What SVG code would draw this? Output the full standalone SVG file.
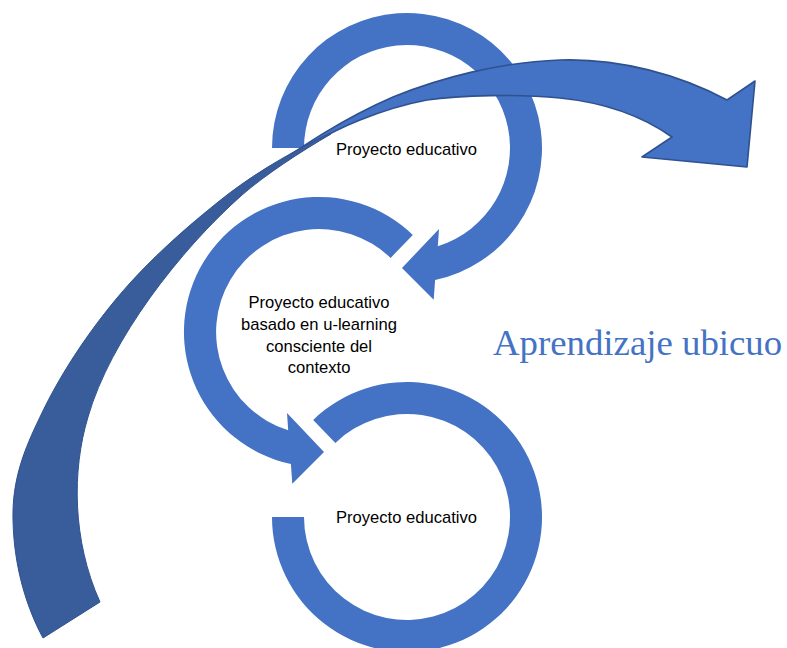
<svg xmlns="http://www.w3.org/2000/svg" width="787" height="648" viewBox="0 0 787 648">
<style>
.ring{fill:#4472C4;}
.lbl{font-family:"Liberation Sans",Arial,sans-serif;font-size:16.6px;fill:#000;text-anchor:middle;}
.title{font-family:"Liberation Serif","Times New Roman",serif;font-size:36.8px;fill:#4472C4;}
.front{fill:#4472C4;stroke:#2F528F;stroke-width:1.6;stroke-linejoin:round;}
.back{fill:#385D9A;stroke:#2F528F;stroke-width:1;stroke-linejoin:round;}
</style>
<rect width="787" height="648" fill="#fff"/>
<g id="node-top">
<path class="ring" d="M272,148 A135,135 0 1 1 435.1,280 L433.7,299.7 L402,268 L439,228.9 L437.8,246.3 A103,103 0 1 0 304,148 Z"/>
<text class="lbl" x="406.5" y="155">Proyecto educativo</text>
</g>
<g id="node-middle">
<path class="ring" d="M412.8,234.9 A135,135 0 1 0 290.9,464 L292.3,483.7 L324,452 L287,412.9 L288.2,430.3 A103,103 0 1 1 390.6,257.9 Z"/>
<text class="lbl" x="319" y="308">Proyecto educativo</text>
<text class="lbl" x="319" y="330">basado en u-learning</text>
<text class="lbl" x="319" y="352">consciente del</text>
<text class="lbl" x="319" y="373">contexto</text>
</g>
<g id="node-bottom">
<path class="ring" d="M272,517 A135,135 0 1 0 313.2,419.9 L335.4,442.9 A103,103 0 1 1 304,517 Z"/>
<text class="lbl" x="406.5" y="523">Proyecto educativo</text>
</g>
<g id="connectors">
<g id="big-arrow">
<path class="front" d="M262,174 C300,148 340,120 393,97 C440,78 500,62 560,60 C620,58 680,75 727,100 L755,81 L747,167 L642,157 L672,137 C645,118 610,103 560,98 C520,94 460,95 427,100 C400,105 380,112 360,120 C330,132 295,152 262,176 Z"/>
<path class="back" d="M43,638 C28,610 14,570 13,520 C12,480 24,450 40,417 C62,370 95,322 130,283 C160,250 195,220 227,195 C262,168 300,148 330,133 L331,134 C300,152 265,175 242,195 C180,250 110,340 88,417 C72,470 72,540 100,602 Z"/>
</g>
</g>
<g id="label-title">
<text class="title" x="493" y="355">Aprendizaje ubicuo</text>
</g>
</svg>
